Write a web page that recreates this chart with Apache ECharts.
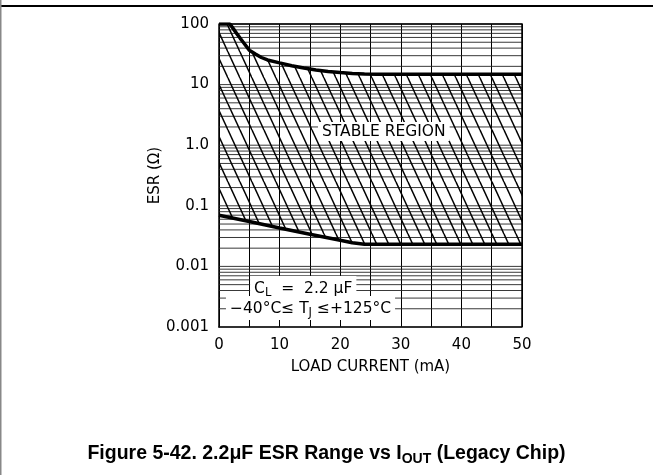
<!DOCTYPE html>
<html><head><meta charset="utf-8">
<script src="https://cdn.jsdelivr.net/npm/echarts@6/dist/echarts.min.js"></script>
<style>html,body{margin:0;padding:0;background:#fff}#c{width:653px;height:475px}</style>
</head><body><div id="c"></div>
<script>
// ---- data ----
var xTicks = [0, 10, 20, 30, 40, 50];
var yTickValues = [0.001, 0.01, 0.1, 1, 10, 100];
var yTickLabels = ['0.001', '0.01', '0.1', '1.0', '10', '100'];
var upperX = [0, 1.8, 2.5, 3, 3.5, 4, 5, 6, 7, 8, 10, 12, 14, 16, 18, 20, 22, 24, 26, 30, 40, 50];
var upperY = [100, 100, 80, 68, 58, 50, 37, 32, 28, 25.5, 22.8, 20.5, 18.8, 17.4, 16.5, 15.8, 15.3, 15.0, 14.8, 14.8, 14.8, 14.8];
var lowerX = [0, 5, 10, 15, 20, 22, 24, 50];
var lowerY = [0.07, 0.055, 0.043, 0.034, 0.027, 0.0245, 0.0232, 0.0232];
var stableLabel = {x: 27.2, y: 1.68, text: 'STABLE REGION'};
var condLabels = [
  {x: 13.9, y: 0.0044, text: 'C{s|L}  =  2.2 μF'},
  {x: 15.1, y: 0.00205, text: '−40°C≤ T{s|J} ≤+125°C'}
];

var FONT = 'DejaVu Sans';
var upper = upperX.map(function (x, i) { return [x, upperY[i]]; });
var lower = lowerX.map(function (x, i) { return [x, lowerY[i]]; });

// horizontal log grid values (1..9 per decade)
var hGrid = [];
for (var d = -3; d <= 1; d++) for (var k = 1; k <= 9; k++) hGrid.push(k * Math.pow(10, d));
hGrid.push(100);

// hatch pattern
var pc = document.createElement('canvas');
pc.width = 12; pc.height = 26;
var g = pc.getContext('2d');
g.strokeStyle = '#000'; g.lineWidth = 1.5;
[-12, 0, 12].forEach(function (o) { g.beginPath(); g.moveTo(o, 0); g.lineTo(o + 12, 26); g.stroke(); });

var chart = echarts.init(document.getElementById('c'), null, {renderer: 'canvas'});
chart.setOption({
  animation: false,
  backgroundColor: '#fff',
  title: {
    text: 'Figure 5-42. 2.2μF ESR Range vs I{s|OUT} (Legacy Chip)',
    left: 'center', top: 437,
    textStyle: {fontFamily: 'Liberation Sans', fontWeight: 'bold', fontSize: 19.5, color: '#000', lineHeight: 24,
      rich: {s: {fontFamily: 'Liberation Sans', fontWeight: 'bold', fontSize: 14, verticalAlign: 'bottom', lineHeight: 14, padding: [10, 0, 0, 0]}}}
  },
  graphic: [
    {type: 'line', shape: {x1: 0, y1: 6, x2: 653, y2: 6}, style: {stroke: '#000', lineWidth: 2}},
    {type: 'line', shape: {x1: 0.75, y1: 0, x2: 0.75, y2: 475}, style: {stroke: '#888', lineWidth: 1.5}}
  ],
  grid: {left: 219, top: 24, right: 131, bottom: 148, show: false},
  xAxis: {
    type: 'value', min: 0, max: 50, interval: 5,
    name: 'LOAD CURRENT (mA)', nameLocation: 'middle', nameGap: 33,
    nameTextStyle: {fontFamily: FONT, fontSize: 15, color: '#000'},
    axisLine: {show: true, onZero: false, lineStyle: {color: '#000', width: 1.5}},
    axisTick: {show: true, inside: true, length: 3, lineStyle: {color: '#000'}},
    axisLabel: {fontFamily: FONT, fontSize: 15, color: '#000', margin: 11,
      formatter: function (v) { return xTicks.indexOf(v) >= 0 ? String(v) : ''; }},
    splitLine: {show: true, lineStyle: {color: '#000', width: 1}}
  },
  yAxis: {
    type: 'log', logBase: 10, min: 0.001, max: 100, interval: 1,
    name: 'ESR (Ω)', nameLocation: 'middle', nameGap: 38, nameRotate: 90,
    nameTextStyle: {fontFamily: FONT, fontSize: 15, color: '#000'},
    axisLine: {show: true, lineStyle: {color: '#000', width: 1.5}},
    axisTick: {show: false},
    axisLabel: {fontFamily: FONT, fontSize: 15, color: '#000', margin: 10,
      formatter: function (v) {
        for (var i = 0; i < yTickValues.length; i++) if (Math.abs(Math.log10(v) - Math.log10(yTickValues[i])) < 1e-6) return yTickLabels[i];
        return '';
      }},
    splitLine: {show: false}
  },
  series: [
    { // horizontal log grid
      type: 'custom', z: 1, silent: true,
      data: hGrid.map(function (v) { return [0, v]; }),
      renderItem: function (params, api) {
        var a = api.coord([0, api.value(1)]), b = api.coord([50, api.value(1)]);
        return {type: 'line', shape: {x1: a[0], y1: a[1], x2: b[0], y2: b[1]}, style: {stroke: '#222', lineWidth: 0.9}};
      }
    },
    { // right & top border
      type: 'custom', z: 2, silent: true, data: [[0, 0]],
      renderItem: function (params, api) {
        var tl = api.coord([0, 100]), tr = api.coord([50, 100]), br = api.coord([50, 0.001]);
        return {type: 'polyline', shape: {points: [tl, tr, br]}, style: {stroke: '#000', lineWidth: 1.5, fill: null}};
      }
    },
    { // hatched stable region
      type: 'custom', z: 3, silent: true, data: [[0, 1]],
      renderItem: function (params, api) {
        var pts = upper.map(function (p) { return api.coord(p); });
        for (var i = lower.length - 1; i >= 0; i--) pts.push(api.coord(lower[i]));
        return {type: 'polygon', shape: {points: pts}, style: {fill: {image: pc, repeat: 'repeat'}, stroke: null}};
      }
    },
    {type: 'line', z: 5, data: upper, showSymbol: false, symbol: 'none', lineStyle: {color: '#000', width: 3.5}},
    {type: 'line', z: 5, data: lower, showSymbol: false, symbol: 'none', lineStyle: {color: '#000', width: 3.5}},
    { // annotation labels
      type: 'custom', z: 8, silent: true,
      data: [[stableLabel.x, stableLabel.y, stableLabel.text]].concat(condLabels.map(function (l) { return [l.x, l.y, l.text]; })),
      renderItem: function (params, api) {
        var p = api.coord([api.value(0), api.value(1)]);
        var txt = params.dataIndex === 0 ? stableLabel.text : condLabels[params.dataIndex - 1].text;
        return {type: 'text', x: p[0], y: p[1], style: {
          text: txt, fontFamily: FONT, fontSize: 15.5, fill: '#000', align: 'center', verticalAlign: 'middle',
          backgroundColor: '#fff', padding: [2, 4, 1, 4],
          rich: {s: {fontFamily: FONT, fontSize: 11.5, verticalAlign: 'bottom', padding: [9, 0, 0, 0]}}
        }};
      }
    }
  ]
});
</script></body></html>
